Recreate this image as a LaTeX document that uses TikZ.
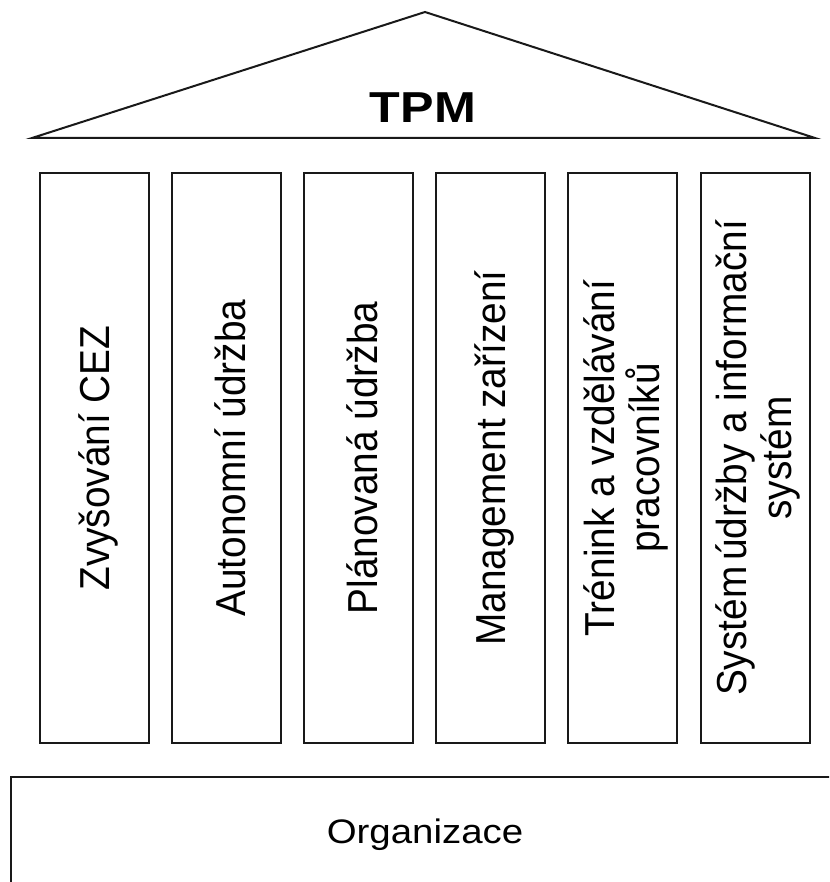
\documentclass[tikz,border=0pt]{standalone}
\usepackage{fontspec}
\setmainfont{Liberation Sans}
\begin{document}
\begin{tikzpicture}[x=1pt,y=-1pt,
  outline/.style={draw=black!90, line width=2pt},
  pillar/.style={outline, minimum width=109pt, minimum height=570pt, inner sep=0pt},
  pillartext/.style={xscale=1.08, rotate=90, align=center, inner sep=0pt,
    font=\fontsize{38.8}{41.7}\selectfont},
  rooftext/.style={anchor=base, xscale=1.16, inner sep=0pt,
    font=\fontsize{43.3}{50}\selectfont\bfseries},
  basetext/.style={anchor=base, xscale=1.13, inner sep=0pt,
    font=\fontsize{34}{40}\selectfont}]
\useasboundingbox (0,0) rectangle (829,882);
\clip (0,0) rectangle (829,882);

% roof
\coordinate (roofL) at (32,138);
\coordinate (apex) at (425,12);
\coordinate (roofR) at (815,138);
\draw[outline, line join=miter] (roofL) -- (apex) -- (roofR) -- cycle;
\node[rooftext] (tpm) at (423,123) {TPM};

% pillars
\node[pillar] (p1) at (94,458) {};
\node[pillar] (p2) at (226,458) {};
\node[pillar] (p3) at (358,458) {};
\node[pillar] (p4) at (490,458) {};
\node[pillar] (p5) at (622.5,458) {};
\node[pillar] (p6) at (755,458) {};

\node[pillartext] (t1) at ([xshift=4pt]p1.center) {Zvyšování CEZ};
\node[pillartext] (t2) at ([xshift=4pt]p2.center) {Autonomní údržba};
\node[pillartext] (t3) at ([xshift=4pt]p3.center) {Plánovaná údržba};
\node[pillartext] (t4) at ([xshift=4pt]p4.center) {Management zařízení};
\node[pillartext] (t5) at ([xshift=3pt]p5.center) {Trénink a vzdělávání\\pracovníků};
\node[pillartext] (t6) at ([xshift=3pt]p6.center) {Systém\hspace{0.15em}údržby a informační\\systém};

% foundation
\coordinate (baseTL) at (11,777);
\coordinate (baseBR) at (840,900);
\draw[outline] (baseTL) rectangle (baseBR);
\node[basetext] (org) at (425,843) {Organizace};
\end{tikzpicture}
\end{document}
